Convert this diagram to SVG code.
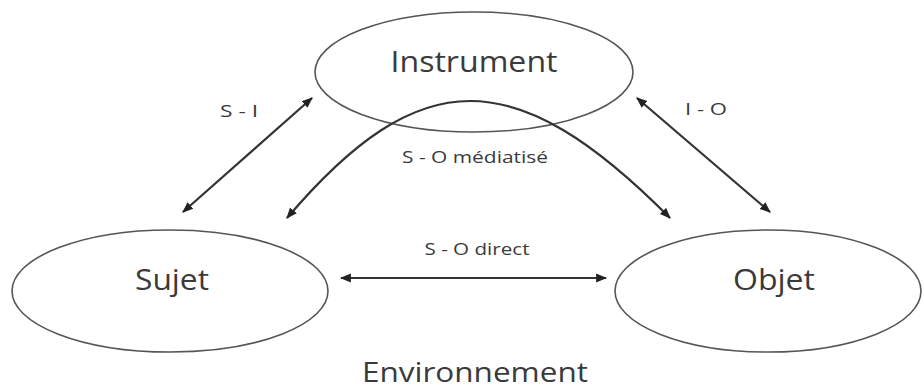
<svg xmlns="http://www.w3.org/2000/svg" width="924" height="392" viewBox="0 0 924 392">
<style>
.node ellipse{fill:none;stroke:#555;stroke-width:1.6}
.lbl{font-family:"Open Sans","Liberation Sans",sans-serif;fill:#3a3a3a;text-anchor:middle}
.big{font-size:29px}
.small{font-size:17px}
.conn path{fill:none;stroke:#333;stroke-width:2.2;marker-start:url(#ah);marker-end:url(#ah)}
</style>
<defs>
<marker id="ah" viewBox="0 0 10 10" refX="9" refY="5" markerWidth="5" markerHeight="5" orient="auto-start-reverse" markerUnits="strokeWidth">
<path d="M0,1 L10,5 L0,9 z" fill="#222"/>
</marker>
</defs>
<rect width="924" height="392" fill="#fff"/>
<g id="instrument" class="node">
<ellipse cx="474" cy="72" rx="159" ry="60"/>
<text class="lbl big" x="474" y="72" textLength="167" lengthAdjust="spacingAndGlyphs">Instrument</text>
</g>
<g id="sujet" class="node">
<ellipse cx="170" cy="291" rx="158" ry="61"/>
<text class="lbl big" x="172" y="290" textLength="74" lengthAdjust="spacingAndGlyphs">Sujet</text>
</g>
<g id="objet" class="node">
<ellipse cx="768" cy="291" rx="153" ry="61"/>
<text class="lbl big" x="774" y="290" textLength="82" lengthAdjust="spacingAndGlyphs">Objet</text>
</g>
<g id="environnement">
<text class="lbl" style="font-size:27px" x="475" y="382" textLength="226" lengthAdjust="spacingAndGlyphs">Environnement</text>
</g>
<g id="connectors" class="conn">
<path d="M312,98 L183,212"/>
<path d="M637,98 L770,212"/>
<path d="M341,278 L606,278"/>
<path d="M287,218 C420,62 515,62 670,218"/>
</g>
<g id="labels">
<text class="lbl small" x="239" y="117" textLength="38" lengthAdjust="spacingAndGlyphs">S - I</text>
<text class="lbl small" x="706" y="115" textLength="42" lengthAdjust="spacingAndGlyphs">I - O</text>
<text class="lbl small" x="475" y="163" textLength="146" lengthAdjust="spacingAndGlyphs">S - O médiatisé</text>
<text class="lbl small" x="477" y="255" textLength="105" lengthAdjust="spacingAndGlyphs">S - O direct</text>
</g>
</svg>
